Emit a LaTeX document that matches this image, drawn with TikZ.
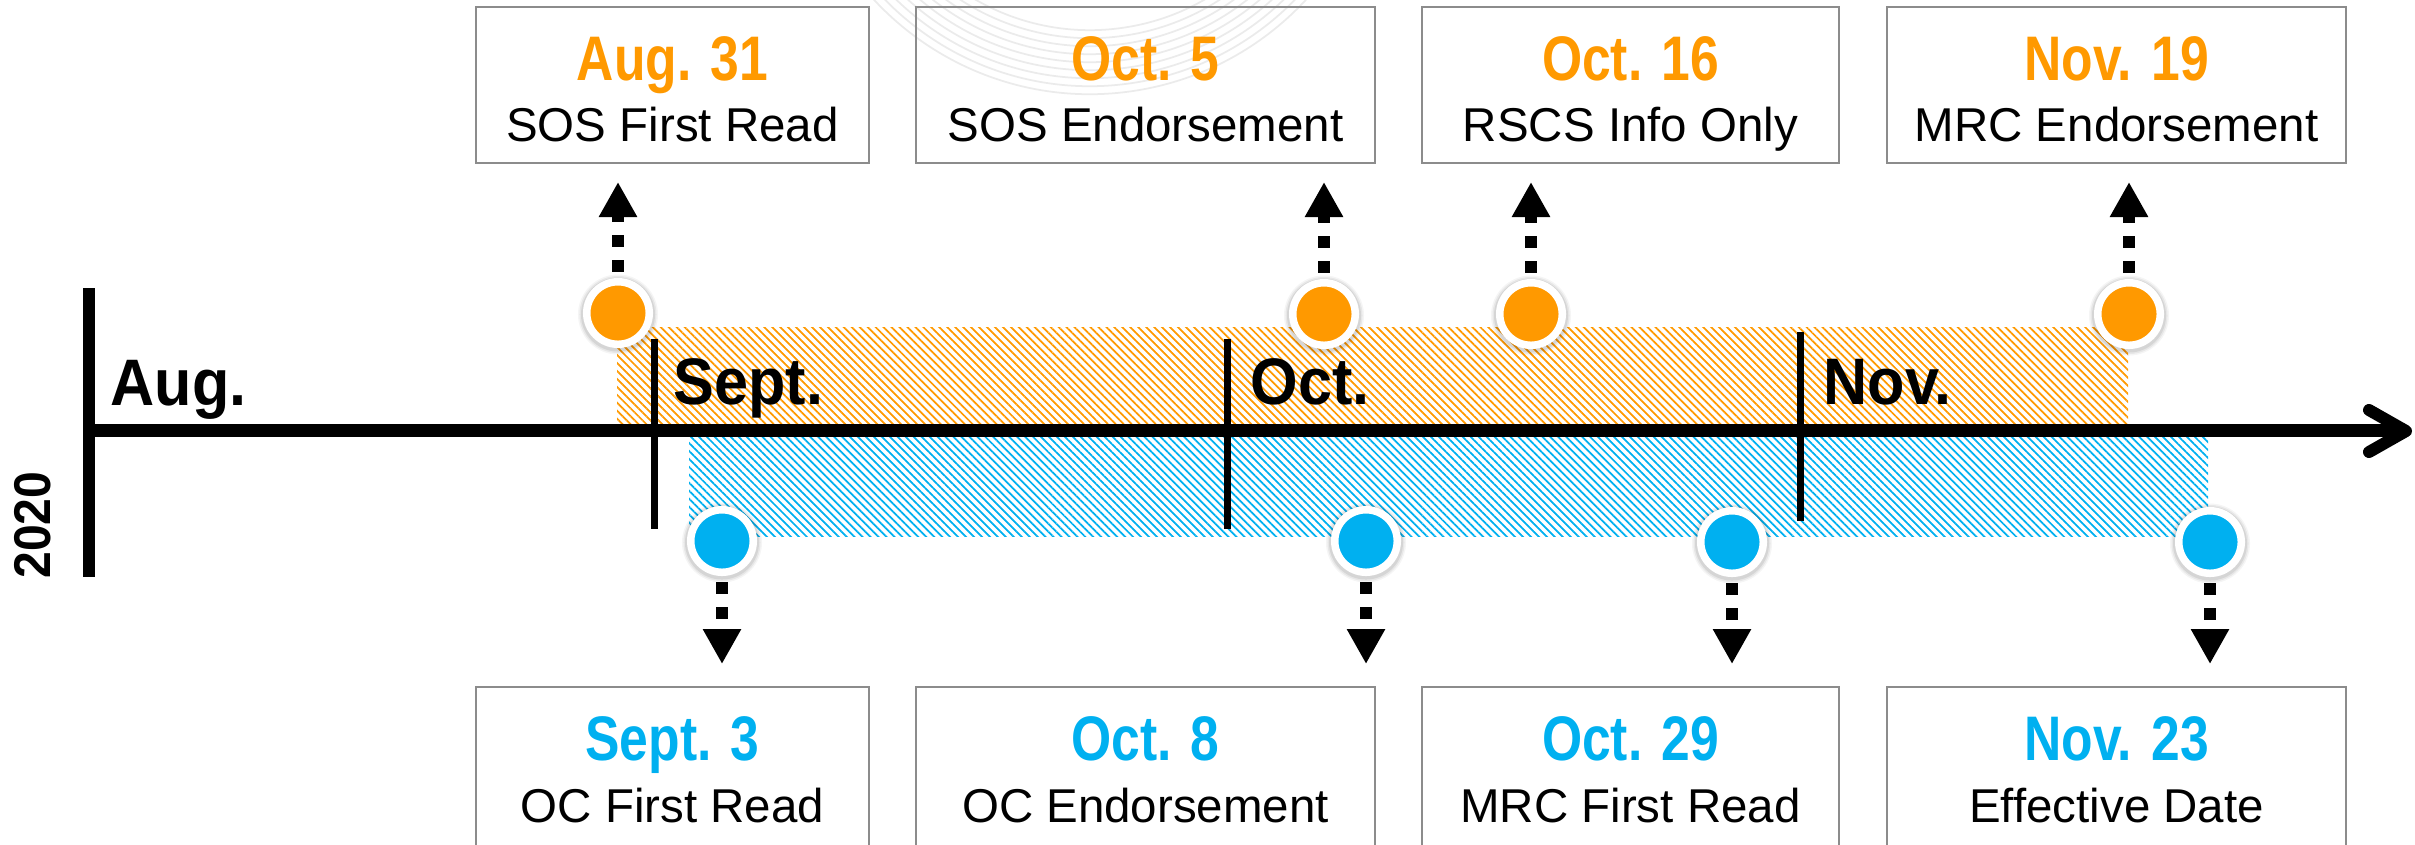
\documentclass[tikz,border=0pt]{standalone}
\usepackage{fontspec}
\setmainfont{Liberation Sans}
\newfontfamily\datefont[FakeStretch=0.82]{Liberation Sans}
\newfontfamily\monthfont[FakeStretch=0.93]{Liberation Sans}
\usetikzlibrary{arrows.meta,patterns.meta}
\definecolor{evorange}{HTML}{FF9900}
\definecolor{evblue}{HTML}{00B0F0}
\definecolor{boxgray}{HTML}{8C8C8C}
\newcommand\evdot[4]{%
  \foreach \rr/\oo in {0.40/0.04,0.385/0.06,0.37/0.08}
    \fill[black,opacity=\oo] (#2,#3+1.5) circle (\rr cm);
  \node[evdot=#4] (#1) at (#2,#3) {};}
\begin{document}
\begin{tikzpicture}[x=0.01cm,y=-0.01cm,
  evdot/.style={circle,draw=white,line width=0.075cm,minimum size=0.625cm,inner sep=0pt,fill=#1},
  datebox/.style={draw=boxgray,line width=0.7pt,minimum height=#1,inner sep=0pt,fill=none},
  datetxt/.style={anchor=base,inner sep=0pt,font=\datefont\bfseries\fontsize{17.9}{20}\selectfont},
  subtxt/.style={anchor=base,inner sep=0pt,font=\fontsize{13.5}{16}\selectfont},
  month/.style={anchor=base west,inner sep=0pt,font=\monthfont\bfseries\fontsize{18.7}{21}\selectfont},
  dotarrow/.style={line width=0.12cm,dash pattern=on 0.12cm off 0.13cm,
     -{Triangle[width=0.36cm,length=0.35cm]},shorten <=0.06cm},
  tickline/.style={line width=0.07cm},
  hatch/.style={pattern={Lines[angle=-45,distance=1.6pt,line width=0.5pt]},pattern color=#1}]
\useasboundingbox (0,0) rectangle (2415,844);
\clip (0,0) rectangle (2415,844);
% faint watermark arcs
\foreach \r in {2.30,2.38,...,3.02}
  \draw[black!8,line width=0.5pt] (1090,-200) ++(190:\r cm) arc[start angle=190,end angle=350,radius=\r cm];
% hatched bands
\fill[hatch=evorange] (617,327) rectangle (2128,424);
\fill[hatch=evblue] (689,437) rectangle (2208,536);
% axis
\coordinate (axL) at (83,430.5);
\coordinate (axR) at (2404,430.5);
\draw[line width=0.13cm] (axL) -- (axR);
\draw[line width=0.12cm,line cap=round,line join=round] (2369,410) -- (2406,431) -- (2369,452);
\draw[line width=0.12cm] (89,288) -- (89,577);
\node[rotate=90,inner sep=0pt,font=\monthfont\bfseries\fontsize{14.7}{16}\selectfont] (yr) at (33,525) {2020};
% month ticks
\draw[tickline] (654,339) -- (654,529);
\draw[tickline] (1227,339) -- (1227,529);
\draw[tickline] (1800,332) -- (1800,521);
\node[month] (mAug) at (110,405) {Aug.};
\node[month] (mSep) at (673,404) {Sept.};
\node[month] (mOct) at (1250,404) {Oct.};
\node[month] (mNov) at (1823,404) {Nov.};
% dots
\evdot{o1}{618}{313}{evorange}
\evdot{o2}{1324}{314}{evorange}
\evdot{o3}{1531}{314}{evorange}
\evdot{o4}{2129}{314}{evorange}
\evdot{c1}{722}{541}{evblue}
\evdot{c2}{1366}{541}{evblue}
\evdot{c3}{1732}{542}{evblue}
\evdot{c4}{2210}{542}{evblue}
% arrow tips
\coordinate (to1) at (618,182);
\coordinate (to2) at (1324,182);
\coordinate (to3) at (1531,182);
\coordinate (to4) at (2129,182);
\coordinate (tc1) at (722,664);
\coordinate (tc2) at (1366,664);
\coordinate (tc3) at (1732,664);
\coordinate (tc4) at (2210,664);
\foreach \a in {o1,o2,o3,o4} \draw[dotarrow] (\a) -- (t\a);
\foreach \a in {c1,c2,c3,c4} \draw[dotarrow] (\a) -- (t\a);
% top boxes
\node[datebox=1.56cm,minimum width=3.93cm] (bt1) at (672.5,85) {};
\node[datebox=1.56cm,minimum width=4.59cm] (bt2) at (1145.5,85) {};
\node[datebox=1.56cm,minimum width=4.17cm] (bt3) at (1630.5,85) {};
\node[datebox=1.56cm,minimum width=4.59cm] (bt4) at (2116.5,85) {};
\node[datetxt,text=evorange] (dt1) at (672.5,80) {Aug. 31};
\node[subtxt] (st1) at (672.5,141) {SOS First Read};
\node[datetxt,text=evorange] (dt2) at (1145.5,80) {Oct. 5};
\node[subtxt] (st2) at (1145.5,141) {SOS Endorsement};
\node[datetxt,text=evorange] (dt3) at (1630.5,80) {Oct. 16};
\node[subtxt] (st3) at (1630.5,141) {RSCS Info Only};
\node[datetxt,text=evorange] (dt4) at (2116.5,80) {Nov. 19};
\node[subtxt] (st4) at (2116.5,141) {MRC Endorsement};
% bottom boxes
\node[datebox=2.0cm,minimum width=3.93cm] (bb1) at (672.5,787) {};
\node[datebox=2.0cm,minimum width=4.59cm] (bb2) at (1145.5,787) {};
\node[datebox=2.0cm,minimum width=4.17cm] (bb3) at (1630.5,787) {};
\node[datebox=2.0cm,minimum width=4.59cm] (bb4) at (2116.5,787) {};
\node[datetxt,text=evblue] (db1) at (672.5,760) {Sept. 3};
\node[subtxt] (sb1) at (672.5,822) {OC First Read};
\node[datetxt,text=evblue] (db2) at (1145.5,760) {Oct. 8};
\node[subtxt] (sb2) at (1145.5,822) {OC Endorsement};
\node[datetxt,text=evblue] (db3) at (1630.5,760) {Oct. 29};
\node[subtxt] (sb3) at (1630.5,822) {MRC First Read};
\node[datetxt,text=evblue] (db4) at (2116.5,760) {Nov. 23};
\node[subtxt] (sb4) at (2116.5,822) {Effective Date};
\end{tikzpicture}
\end{document}
